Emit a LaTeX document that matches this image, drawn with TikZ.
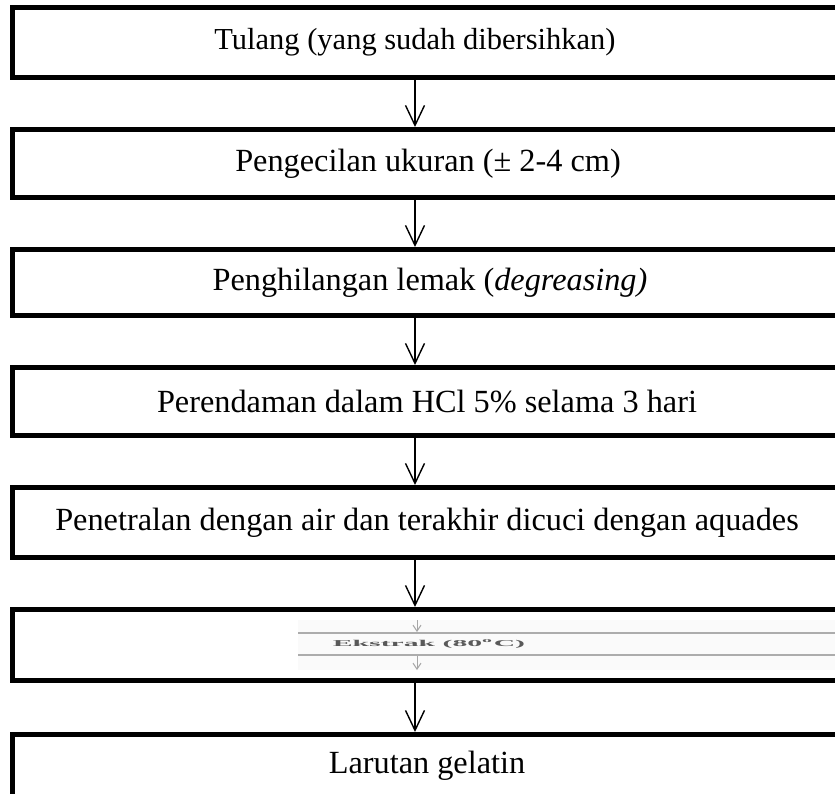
\documentclass[tikz,border=0pt]{standalone}
\usepackage{fontspec}
\setmainfont{Liberation Serif}
\usetikzlibrary{arrows.meta}
\tikzset{
  stepbox/.style={draw=black, line width=5pt, rectangle, minimum width=857.5pt, minimum height=70pt, inner sep=0pt},
  steptext/.style={font=\fontsize{32.3}{36}\selectfont, inner sep=0pt, anchor=center},
  arr/.style={line width=1.4pt, -{Straight Barb[length=20pt,width=19pt,line width=1.4pt]}},
  smallarr/.style={line width=1pt, draw=gray!70, -{Straight Barb[length=6pt,width=8pt,line width=1pt]}}
}
\begin{document}
\begin{tikzpicture}[x=1pt,y=-1pt]
\useasboundingbox (0,0) rectangle (835,793);
\clip (0,0) rectangle (835,793);
\fill[white] (0,0) rectangle (835,793);
% boxes
\node[stepbox] (b1) at (441.25,42.5) {};
\node[stepbox, minimum height=68pt] (b2) at (441.25,163.5) {};
\node[stepbox, minimum height=66pt] (b3) at (441.25,282.5) {};
\node[stepbox, minimum height=68pt] (b4) at (441.25,401.5) {};
\node[stepbox] (b5) at (441.25,522.5) {};
\node[stepbox, minimum height=71pt] (b6) at (441.25,645) {};
\node[stepbox] (b7) at (441.25,769.5) {};
% texts
\node[steptext, font=\fontsize{30.5}{36}\selectfont] (t1) at (415,42.5) {Tulang (yang sudah dibersihkan)};
\node[steptext] (t2) at (428,163.5) {Pengecilan ukuran (± 2-4 cm)};
\node[steptext] (t3) at (430,282.5) {Penghilangan lemak (\textit{degreasing)}};
\node[steptext] (t4) at (427,401.5) {Perendaman dalam HCl 5\% selama 3 hari};
\node[steptext] (t5) at (427,522.5) {Penetralan dengan air dan terakhir dicuci dengan aquades};
\node[steptext] (t7) at (427,766) {Larutan gelatin};
% pasted inner picture of box 6
\fill[gray!4] (298,620) rectangle (840,670);
\coordinate (l1a) at (298,633);
\coordinate (l1b) at (840,633);
\coordinate (l2a) at (298,655);
\coordinate (l2b) at (840,655);
\draw[gray!65, line width=2pt] (l1a) -- (l1b);
\draw[gray!65, line width=2pt] (l2a) -- (l2b);
\node[inner sep=0pt, text=gray!70!black] (t6) at (429,644) {\scalebox{3.3}[1]{\fontsize{9}{10}\selectfont\bfseries Ekstrak (80\textsuperscript{o}C)}};
\coordinate (s1) at (417,620);
\coordinate (s2) at (417,632);
\coordinate (s3) at (417,656);
\coordinate (s4) at (417,670);
\draw[smallarr] (s1) -- (s2);
\draw[smallarr] (s3) -- (s4);
% connectors
\draw[arr] (t1 |- b1.south) -- (t1 |- b2.north);
\draw[arr] (t1 |- b2.south) -- (t1 |- b3.north);
\draw[arr] (t1 |- b3.south) -- (t1 |- b4.north);
\draw[arr] (t1 |- b4.south) -- (t1 |- b5.north);
\draw[arr] (t1 |- b5.south) -- (t1 |- b6.north);
\draw[arr] (t1 |- b6.south) -- (t1 |- b7.north);
\end{tikzpicture}
\end{document}
